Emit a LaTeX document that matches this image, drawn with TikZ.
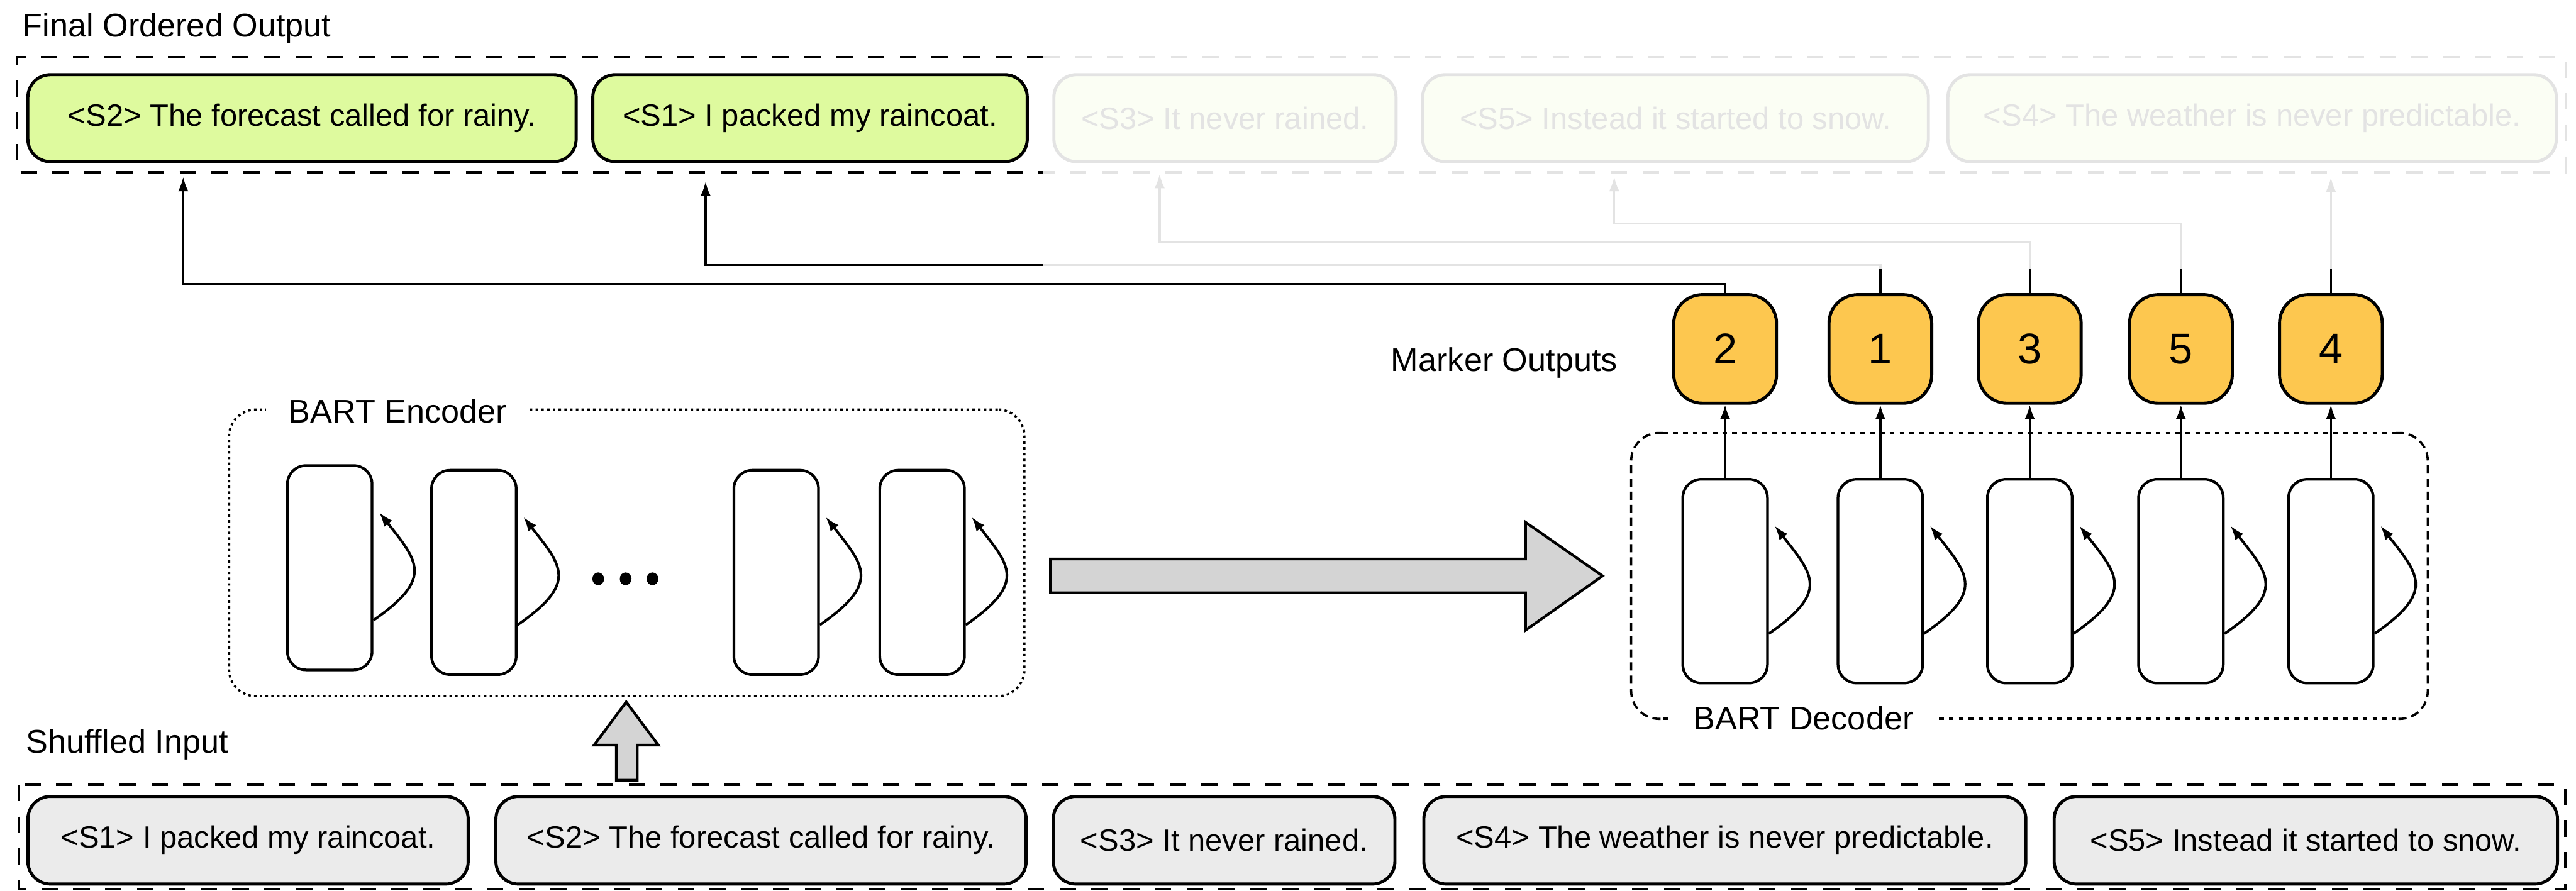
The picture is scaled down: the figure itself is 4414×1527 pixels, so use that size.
\documentclass[tikz,border=0pt]{standalone}
\usepackage{fontspec}
\setmainfont{Liberation Sans}
\usetikzlibrary{arrows.meta,calc}
\definecolor{outgreen}{RGB}{222,250,158}
\definecolor{ingray}{RGB}{235,235,235}
\definecolor{markorange}{RGB}{253,199,79}
\definecolor{arrowgray}{RGB}{212,212,212}
\newcommand\selfloop[1]{\draw[conn, line width=1.25pt] ($(#1.east)+(0,90)$) .. controls +(104,-72) and +(66,84) .. ($(#1.east)+(10,-95)$);}
\begin{document}
\begin{tikzpicture}[x=0.01cm,y=-0.01cm,
  sentbox/.style={draw=black, line width=1.5pt, rounded corners=11pt, inner sep=0pt, font=\fontsize{15}{18}\selectfont},
  outbox/.style={sentbox, fill=outgreen, minimum height=1.49cm},
  inbox/.style={sentbox, fill=ingray, minimum height=1.5cm},
  layerbox/.style={draw=black, line width=1.3pt, rounded corners=9pt, fill=white, minimum width=1.45cm, minimum height=3.5cm, inner sep=0pt},
  markbox/.style={draw=black, line width=1.5pt, rounded corners=14pt, fill=markorange, minimum width=1.76cm, minimum height=1.86cm, inner sep=0pt, font=\fontsize{21}{25}\selectfont},
  headtext/.style={font=\fontsize{16}{19}\selectfont, inner sep=0pt, anchor=base west},
  grouptext/.style={font=\fontsize{16}{19}\selectfont, fill=white, inner xsep=11pt, inner ysep=3pt, anchor=west},
  conn/.style={line width=1.05pt, -{Latex[length=7pt,width=5pt]}},
  groupdash/.style={line width=1.2pt, dash pattern=on 8pt off 7.5pt},
  encdot/.style={line width=1.1pt, dash pattern=on 1.2pt off 1.6pt, rounded corners=13pt},
  decdot/.style={line width=1.1pt, dash pattern=on 2.3pt off 2.5pt},
  decdash/.style={line width=1.1pt, dash pattern=on 4pt off 2.4pt, rounded corners=13.6pt},
  bigarrow/.style={draw=black, line width=1.3pt, fill=arrowgray, line join=miter},
]
\useasboundingbox (0,0) rectangle (4414,1527);

% ---------- headings ----------
\node[headtext] (ttl) at (38,63) {Final Ordered Output};
\node[headtext] (mo) at (2383,636) {Marker Outputs};
\node[headtext] (si) at (44,1290) {Shuffled Input};

% ---------- ordered output row ----------
\draw[groupdash] (1788,98) -- (29,98) -- (29,295) -- (1788,295);
\draw[groupdash] (1788,98) -- (4397,98) -- (4397,295) -- (1788,295);
\node[outbox, minimum width=9.39cm]  (o2) at (517.5,202.5) {<S2> The forecast called for rainy.};
\node[outbox, minimum width=7.44cm]  (o1) at (1388,202.5)  {<S1> I packed my raincoat.};
\node[outbox, minimum width=5.86cm]  (o3) at (2099,202.5)  {<S3> It never rained.};
\node[outbox, minimum width=8.66cm]  (o5) at (2871,202.5)  {<S5> Instead it started to snow.};
\node[outbox, minimum width=10.42cm] (o4) at (3859,202.5)  {<S4> The weather is never predictable.};

% ---------- shuffled input row ----------
\draw[groupdash] (32,1345) rectangle (4396,1524);
\node[inbox, minimum width=7.54cm]  (s1) at (425,1440)    {<S1> I packed my raincoat.};
\node[inbox, minimum width=9.08cm]  (s2) at (1304,1440)   {<S2> The forecast called for rainy.};
\node[inbox, minimum width=5.85cm]  (s3) at (2097.5,1440) {<S3> It never rained.};
\node[inbox, minimum width=10.31cm] (s4) at (2955.5,1440) {<S4> The weather is never predictable.};
\node[inbox, minimum width=8.62cm]  (s5) at (3951,1440)   {<S5> Instead it started to snow.};

% ---------- encoder ----------
\node[draw=black, encdot, inner sep=0pt, minimum width=13.62cm, minimum height=4.91cm] (enc) at (1074,947.5) {};
\node[grouptext] (enclbl) at (455,705) {BART Encoder};
\node[layerbox] (e1) at (565,973) {};
\node[layerbox] (e2) at (812,981) {};
\node[layerbox] (e3) at (1330,981) {};
\node[layerbox] (e4) at (1580,981) {};
\foreach \l in {e1,e2,e3,e4} {\selfloop{\l}}
\foreach \x in {1025,1072,1118} \fill (\x,992) ellipse[x radius=10, y radius=11];

% ---------- decoder ----------
\draw[decdash] (2850,742) -- (2795,742) -- (2795,1232) -- (2850,1232);
\draw[decdash] (4105,742) -- (4160,742) -- (4160,1232) -- (4105,1232);
\draw[decdot] (2850,742) -- (4105,742);
\draw[decdot] (2850,1232) -- (4105,1232);
\node[grouptext] (declbl) at (2862,1231) {BART Decoder};
\node[layerbox, minimum height=3.49cm] (d1) at (2956,996) {};
\node[layerbox, minimum height=3.49cm] (d2) at (3222,996) {};
\node[layerbox, minimum height=3.49cm] (d3) at (3478,996) {};
\node[layerbox, minimum height=3.49cm] (d4) at (3737,996) {};
\node[layerbox, minimum height=3.49cm] (d5) at (3994,996) {};
\foreach \l in {d1,d2,d3,d4,d5} {\selfloop{\l}}

% ---------- marker outputs ----------
\node[markbox] (m2) at (2956,598) {2};
\node[markbox] (m1) at (3222,598) {1};
\node[markbox] (m3) at (3478,598) {3};
\node[markbox] (m5) at (3737,598) {5};
\node[markbox] (m4) at (3994,598) {4};
\draw[conn] (d1.north) -- (m2.south);
\draw[conn] (d2.north) -- (m1.south);
\draw[conn] (d3.north) -- (m3.south);
\draw[conn] (d4.north) -- (m5.south);
\draw[conn] (d5.north) -- (m4.south);

% ---------- routing of markers to ordered slots ----------
\coordinate (b2) at (314,487);  \coordinate (t2) at (314,303);
\coordinate (b1) at (1209,454); \coordinate (t1) at (1209,311);
\coordinate (b3) at (1987,415); \coordinate (t3) at (1987,298);
\coordinate (b5) at (2766,383); \coordinate (t5) at (2766,303);
\coordinate (t4) at (3994,304);
\draw[conn] (m2.north) |- (b2) -- (t2);
\draw[conn] (m1.north) |- (b1) -- (t1);
\draw[conn] (m3.north) |- (b3) -- (t3);
\draw[conn] (m5.north) |- (b5) -- (t5);
\draw[conn] (m4.north) -- (t4);

% ---------- block arrows ----------
\draw[bigarrow] (1800,958) -- (2614,958) -- (2614,895) -- (2746,987) -- (2614,1080) -- (2614,1016) -- (1800,1016) -- cycle;
\draw[bigarrow] (1056,1337) -- (1056,1277) -- (1018,1277) -- (1073,1203) -- (1128,1277) -- (1092,1277) -- (1092,1337) -- cycle;

% ---------- slots not yet filled are faded ----------
\fill[white, opacity=0.89] (1788,0) rectangle (4414,461);
\end{tikzpicture}
\end{document}
